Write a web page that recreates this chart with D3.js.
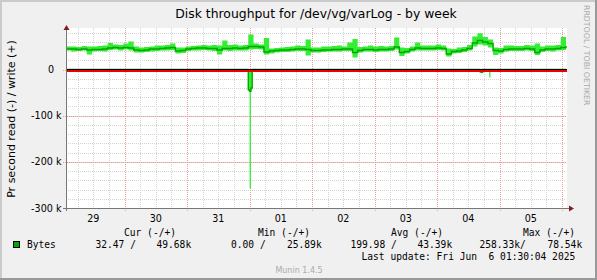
<!DOCTYPE html>
<html lang="en">
<head>
<meta charset="UTF-8">
<title>Disk throughput for /dev/vg/varLog - by week</title>
<style>
    body { margin: 0; background: #fff; }
    svg text { font-family: "DejaVu Sans", sans-serif; fill: #000; }
    svg text.mono { font-family: "DejaVu Sans Mono", monospace; white-space: pre; }
</style>
</head>
<body>
<script src="https://d3js.org/d3.v7.min.js"></script>

<div id="chart"></div>

<script type="text/javascript">

    // write (+), one sample every 2 hours from the start, in k bytes/s
    var writeAvg = [44.6,44.6,43.5,44.6,42.4,43.5,43.5,44.6,46.7,47.8,
                    46.7,47.8,46.7,42.4,41.3,42.4,44.6,44.6,45.7,46.7,
                    47.8,40.2,41.3,44.6,45.7,46.7,46.7,45.7,45.7,42.4,
                    45.7,45.7,46.7,45.7,46.7,50.0,50.0,48.9,38.0,40.2,
                    41.3,42.4,42.4,43.5,44.6,44.6,43.5,41.3,41.3,42.4,
                    42.4,43.5,43.5,44.6,44.6,37.0,41.3,43.5,43.5,42.4,
                    43.5,43.5,44.6,48.9,37.0,39.1,43.5,46.7,45.7,45.7,
                    45.7,46.7,45.7,33.7,39.1,40.2,42.4,45.7,57.6,63.0,
                    59.8,56.5,41.3,40.2,43.5,44.6,44.6,44.6,45.7,44.6,
                    37.0,42.4,44.6,44.6,45.7,47.8,51.1];
    var writeMax = [50.0,50.0,48.9,51.1,50.0,50.0,51.1,52.2,57.6,54.3,
                    53.3,56.5,60.9,50.0,47.8,48.9,50.0,52.2,52.2,53.3,
                    56.5,47.8,47.8,50.0,51.1,52.2,53.3,52.2,53.3,52.2,
                    63.0,53.3,54.3,52.2,53.3,76.0,56.5,54.3,68.5,45.7,
                    46.7,47.8,48.9,50.0,52.2,51.1,65.2,47.8,47.8,50.0,
                    50.0,51.1,52.2,50.0,58.7,66.3,48.9,50.0,52.2,50.0,
                    51.1,50.0,51.1,69.6,47.8,46.7,50.0,58.7,52.2,52.2,
                    52.2,54.3,52.2,45.7,44.6,47.8,48.9,53.3,71.7,78.5,
                    70.7,65.2,47.8,46.7,52.2,52.2,51.1,51.1,53.3,52.2,
                    56.5,50.0,52.2,52.2,53.3,70.7,56.5];
    var writeMin = [41.3,39.1,40.2,41.3,32.6,39.1,40.2,39.1,42.4,43.5,
                    41.3,43.5,41.3,37.0,37.0,38.0,39.1,40.2,41.3,41.3,
                    42.4,34.8,35.9,40.2,41.3,41.3,42.4,41.3,40.2,32.6,
                    41.3,40.2,41.3,41.3,41.3,43.5,44.6,43.5,32.6,34.8,
                    37.0,38.0,38.0,39.1,40.2,40.2,30.4,37.0,37.0,38.0,
                    39.1,39.1,39.1,40.2,40.2,25.9,37.0,39.1,39.1,38.0,
                    39.1,39.1,40.2,43.5,29.3,34.8,39.1,41.3,41.3,41.3,
                    41.3,42.4,41.3,28.3,34.8,35.9,38.0,41.3,50.0,54.3,
                    52.2,47.8,31.5,34.8,39.1,40.2,40.2,40.2,41.3,40.2,
                    31.5,38.0,40.2,39.1,41.3,42.4,45.7];

    // read (-), only where it is not zero: hours from the start, k bytes/s
    var readHours = [0, 70, 70.5, 71, 71.5, 159, 159.5, 160, 162.5, 163, 180, 180.5, 192];
    var readAvg   = [0, 44, 47, 40, 0, 5, 6, 0, 2, 0, 1, 0, 0];
    var readMax   = [0, 46, 258, 44, 0, 7, 8, 0, 17, 0, 4, 0, 0];

    var yTicks = [-300, -200, -100, 0];
    var legendHeads = ["Cur (-/+)", "Min (-/+)", "Avg (-/+)", "Max (-/+)"];
    var legendValues = ["32.47 /", "49.68k", "0.00 /", "25.89k", "199.98 /", "43.39k", "258.33k/", "78.54k"];

    var width = 597, height = 280;
    var plot = { left: 66, right: 566, top: 28, bottom: 208 };
    var start = Date.UTC(2025, 4, 29, 1, 30), end = Date.UTC(2025, 5, 6, 1, 30);
    var hour = 3600 * 1000;

    var svg = d3
        .select("#chart")
        .append("svg")
        .attr("width", width)
        .attr("height", height)
        .style("display", "block");

    // background and 3d frame
    svg.append("rect").attr("width", width).attr("height", height).attr("fill", "#f0f0f0");
    svg.append("path").attr("d", "M1,280 V1 H597").attr("fill", "none").attr("stroke", "#cbcbcb").attr("stroke-width", 2);
    svg.append("path").attr("d", "M0,279 H596 V0").attr("fill", "none").attr("stroke", "#999999").attr("stroke-width", 2);

    var x = d3.scaleUtc().domain([start, end]).range([plot.left, plot.right]);
    var y = d3.scaleLinear().domain([-300, 90]).range([plot.bottom, plot.top]);
    var px = function(v) { return Math.round(v) + 0.5; };

    // canvas
    svg.append("rect")
        .attr("x", plot.left).attr("y", plot.top)
        .attr("width", plot.right - plot.left + 1).attr("height", plot.bottom - plot.top)
        .attr("fill", "#ffffff");

    var grid = svg.append("g").attr("shape-rendering", "crispEdges").attr("stroke-dasharray", "1,1");

    // minor grid
    grid.selectAll(".vminor")
        .data(x.ticks(d3.utcHour.every(6)))
        .enter().append("line")
        .attr("x1", function(d) { return px(x(d)); })
        .attr("x2", function(d) { return px(x(d)); })
        .attr("y1", plot.top).attr("y2", plot.bottom)
        .attr("stroke", "#d4d4d4");
    grid.selectAll(".hminor")
        .data(d3.range(-300, 90, 20))
        .enter().append("line")
        .attr("x1", plot.left).attr("x2", plot.right)
        .attr("y1", function(d) { return px(y(d)); })
        .attr("y2", function(d) { return px(y(d)); })
        .attr("stroke", "#d4d4d4");

    // major grid
    grid.selectAll(".vmajor")
        .data(x.ticks(d3.utcDay.every(1)))
        .enter().append("line")
        .attr("x1", function(d) { return px(x(d)); })
        .attr("x2", function(d) { return px(x(d)); })
        .attr("y1", plot.top).attr("y2", plot.bottom + 3)
        .attr("stroke", "#f09a9a");
    grid.selectAll(".hmajor")
        .data(yTicks)
        .enter().append("line")
        .attr("x1", plot.left - 3).attr("x2", plot.right)
        .attr("y1", function(d) { return px(y(d)); })
        .attr("y2", function(d) { return px(y(d)); })
        .attr("stroke", "#f09a9a");

    // data
    var write = writeAvg.map(function(v, i) {
        return { t: start + i * 2 * hour, avg: v, lo: writeMin[i], hi: writeMax[i] };
    });
    var read = readHours.map(function(h, i) {
        return { t: start + h * hour, avg: -readAvg[i], lo: 0, hi: -readMax[i] };
    });

    var band = d3.area()
        .curve(d3.curveStepAfter)
        .x(function(d) { return x(d.t); })
        .y0(function(d) { return y(d.lo); })
        .y1(function(d) { return y(d.hi); });
    var avgLine = d3.line()
        .curve(d3.curveStepAfter)
        .x(function(d) { return x(d.t); })
        .y(function(d) { return y(d.avg); });

    [write, read].forEach(function(s) {
        svg.append("path").datum(s).attr("d", band).attr("fill", "#33ee33");
    });
    [write, read].forEach(function(s) {
        svg.append("path").datum(s).attr("d", avgLine)
            .attr("fill", "none").attr("stroke", "#00a800").attr("stroke-width", 1.4);
    });

    // zero rule
    svg.append("line")
        .attr("x1", plot.left).attr("x2", plot.right + 1)
        .attr("y1", Math.floor(y(0)) + 0.5).attr("y2", Math.floor(y(0)) + 0.5)
        .attr("stroke", "#000").attr("shape-rendering", "crispEdges");
    svg.append("line")
        .attr("x1", plot.left).attr("x2", plot.right + 1)
        .attr("y1", Math.floor(y(0)) + 2).attr("y2", Math.floor(y(0)) + 2)
        .attr("stroke", "#ee0000").attr("stroke-width", 2).attr("shape-rendering", "crispEdges");

    // axes + arrows
    svg.append("line")
        .attr("x1", plot.left + 0.5).attr("x2", plot.left + 0.5)
        .attr("y1", plot.bottom + 3).attr("y2", plot.top - 1)
        .attr("stroke", "#777").attr("shape-rendering", "crispEdges");
    svg.append("line")
        .attr("x1", plot.left - 3).attr("x2", plot.right + 4)
        .attr("y1", plot.bottom + 0.5).attr("y2", plot.bottom + 0.5)
        .attr("stroke", "#777").attr("shape-rendering", "crispEdges");
    svg.append("path")
        .attr("d", "M" + (plot.left - 2.5) + "," + (plot.top + 2) + " L" + (plot.left + 0.5) + "," + (plot.top - 3) +
            " L" + (plot.left + 3.5) + "," + (plot.top + 2) + "Z")
        .attr("fill", "#7f1f1f");
    svg.append("path")
        .attr("d", "M" + (plot.right + 3) + "," + (plot.bottom - 2.5) + " L" + (plot.right + 8) + "," + (plot.bottom + 0.5) +
            " L" + (plot.right + 3) + "," + (plot.bottom + 3.5) + "Z")
        .attr("fill", "#7f1f1f");

    // y tick labels
    svg.selectAll(".ylab")
        .data(yTicks)
        .enter().append("text")
        .attr("x", function(d) { return d === 0 ? 54 : 61.5; })
        .attr("y", function(d) { return y(d) + 3.5; })
        .attr("text-anchor", "end")
        .style("font-size", "9.6px")
        .text(function(d) { return d === 0 ? "0" : d + " k"; });

    // x labels at noon of each day
    svg.selectAll(".xlab")
        .data(d3.utcDay.range(d3.utcDay.floor(start), d3.utcDay.floor(end)).map(function(d) { return +d + 12 * hour; }))
        .enter().append("text")
        .attr("x", function(d) { return x(d); })
        .attr("y", 222)
        .attr("text-anchor", "middle")
        .style("font-size", "9.6px")
        .text(d3.utcFormat("%d"));

    // titles
    svg.append("text")
        .attr("x", (plot.left + plot.right) / 2)
        .attr("y", 17.5)
        .attr("text-anchor", "middle")
        .style("font-size", "12.4px")
        .text("Disk throughput for /dev/vg/varLog - by week");

    svg.append("text")
        .attr("transform", "translate(15,119) rotate(-90)")
        .attr("text-anchor", "middle")
        .style("font-size", "11px")
        .text("Pr second read (-) / write (+)");

    svg.append("text")
        .attr("transform", "translate(584,5) rotate(90)")
        .style("font-size", "7.8px")
        .style("fill", "#a8a8a8")
        .text("RRDTOOL / TOBI OETIKER");

    // legend
    svg.append("rect")
        .attr("x", 13.5).attr("y", 241.5).attr("width", 6).attr("height", 6)
        .attr("fill", "#00aa00").attr("stroke", "#000");
    svg.append("text").attr("class", "mono").attr("x", 27).attr("y", 248)
        .style("font-size", "9.6px").text("Bytes");

    var headX = [124, 258, 391, 523];
    svg.selectAll(".lhead")
        .data(legendHeads)
        .enter().append("text")
        .attr("class", "mono")
        .attr("x", function(d, i) { return headX[i]; })
        .attr("y", 236)
        .style("font-size", "9.6px")
        .text(function(d) { return d; });

    var valX = [95.5, 156.5, 231, 287, 350.5, 417.5, 479.5, 547.5];
    svg.selectAll(".lval")
        .data(legendValues)
        .enter().append("text")
        .attr("class", "mono")
        .attr("x", function(d, i) { return valX[i]; })
        .attr("y", 248)
        .style("font-size", "9.6px")
        .text(function(d) { return d; });

    svg.append("text").attr("class", "mono")
        .attr("x", 361.5).attr("y", 260)
        .style("font-size", "9.6px")
        .text("Last update: Fri Jun  6 01:30:04 2025");

    svg.append("text")
        .attr("x", 299).attr("y", 272.5)
        .attr("text-anchor", "middle")
        .style("font-size", "8px")
        .style("fill", "#aaaaaa")
        .text("Munin 1.4.5");

</script>
</body>
</html>
